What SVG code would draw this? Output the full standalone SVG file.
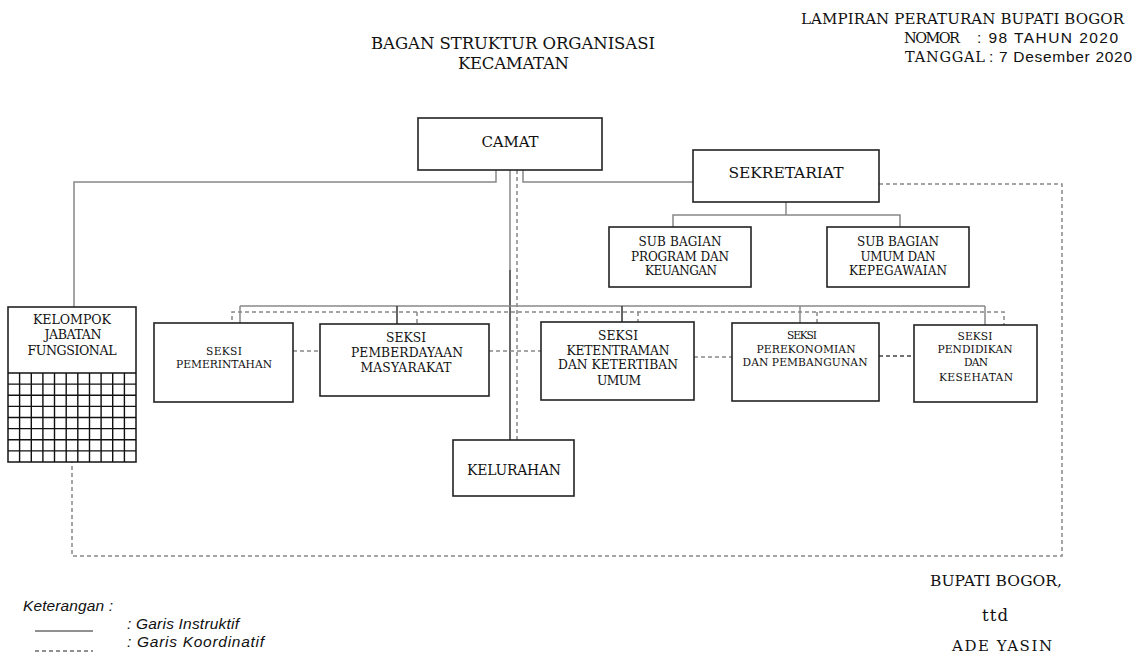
<svg xmlns="http://www.w3.org/2000/svg" width="1137" height="656" viewBox="0 0 1137 656">
<style>
.box{fill:#fff;stroke:#222;stroke-width:1.6}
.t{font-family:"DejaVu Serif","Liberation Serif",serif;fill:#111;text-anchor:middle}
.h{font-family:"DejaVu Serif","Liberation Serif",serif;fill:#111}
.s{font-family:"Liberation Sans",Arial,sans-serif;fill:#111}
.i{font-family:"Liberation Sans",Arial,sans-serif;fill:#111;font-style:italic;font-size:15.5px}
.sm{font-size:10.7px}
.md{font-size:12.3px}
.sol{fill:none;stroke:#888;stroke-width:1.5}
.dk{fill:none;stroke:#333;stroke-width:1.5}
.dash{fill:none;stroke:#888;stroke-width:1.5;stroke-dasharray:4 3}
.ddash{fill:none;stroke:#444;stroke-width:1.5;stroke-dasharray:4 3}
.grid{fill:none;stroke:#111;stroke-width:1.4}
</style>
<rect width="1137" height="656" fill="#fff"/>

<g id="header">
<text class="h" x="801" y="24" font-size="15" textLength="323" lengthAdjust="spacing">LAMPIRAN PERATURAN BUPATI BOGOR</text>
<text class="h" x="904" y="43" font-size="14.5" textLength="56" lengthAdjust="spacing">NOMOR</text>
<text class="s" x="977" y="43" font-size="15.5" textLength="141" lengthAdjust="spacing">: 98 TAHUN 2020</text>
<text class="h" x="905" y="62" font-size="14.5" textLength="80" lengthAdjust="spacing">TANGGAL</text>
<text class="s" x="989" y="62" font-size="15.5" textLength="143" lengthAdjust="spacing">: 7 Desember 2020</text>
<text class="h" x="371" y="49" font-size="16.5" textLength="284" lengthAdjust="spacing">BAGAN STRUKTUR ORGANISASI</text>
<text class="h" x="458" y="69" font-size="16.5" textLength="111" lengthAdjust="spacing">KECAMATAN</text>
</g>

<g id="connectors">
<polyline class="sol" points="496,170 496,182 74,182 74,307"/>
<polyline class="sol" points="523,170 523,182 693,182"/>
<line class="sol" x1="510" y1="170" x2="510" y2="270"/>
<line class="dk" x1="510" y1="270" x2="510" y2="440"/>
<polyline class="sol" points="786,202 786,215"/>
<polyline class="sol" points="673,227 673,215 900,215 900,227"/>
<line class="sol" x1="240" y1="306" x2="985" y2="306"/>
<line class="sol" x1="240" y1="306" x2="240" y2="323"/>
<line class="dk" x1="397" y1="306" x2="397" y2="324"/>
<line class="dk" x1="622" y1="306" x2="622" y2="322"/>
<line class="sol" x1="800" y1="306" x2="800" y2="323"/>
<line class="sol" x1="985" y1="306" x2="985" y2="325"/>
<line class="dash" x1="517" y1="170" x2="517" y2="440"/>
<polyline class="dash" points="232,327 232,312 1004,312 1004,325"/>
<line class="dash" x1="417" y1="312" x2="417" y2="324"/>
<line class="dash" x1="638" y1="312" x2="638" y2="322"/>
<line class="dash" x1="817" y1="312" x2="817" y2="323"/>
<line class="dash" x1="293" y1="351" x2="320" y2="351"/>
<line class="dash" x1="489" y1="351" x2="541" y2="351"/>
<line class="dash" x1="694" y1="357" x2="732" y2="357"/>
<line class="ddash" x1="879" y1="356" x2="914" y2="356"/>
<polyline class="dash" points="879,184 1062,184 1062,556 72,556 72,462"/>
</g>

<g id="camat"><rect class="box" x="418" y="118" width="184" height="52"/><text class="t" x="510" y="147" font-size="15" textLength="57" lengthAdjust="spacing">CAMAT</text></g>
<g id="sekretariat"><rect class="box" x="693" y="150" width="186" height="52"/><text class="t" x="786" y="178" font-size="15.5" textLength="115" lengthAdjust="spacing">SEKRETARIAT</text></g>
<g id="subbag-program"><rect class="box" x="609" y="227" width="142" height="60"/>
<text class="t" x="680" y="246" font-size="12" textLength="83" lengthAdjust="spacing">SUB BAGIAN</text>
<text class="t" x="680" y="261" font-size="12" textLength="98" lengthAdjust="spacing">PROGRAM DAN</text>
<text class="t" x="681" y="275" font-size="12" textLength="72" lengthAdjust="spacing">KEUANGAN</text></g>
<g id="subbag-umum"><rect class="box" x="827" y="227" width="142" height="60"/>
<text class="t" x="898" y="246" font-size="12" textLength="82" lengthAdjust="spacing">SUB BAGIAN</text>
<text class="t" x="898" y="261" font-size="12" textLength="75" lengthAdjust="spacing">UMUM DAN</text>
<text class="t" x="898" y="275" font-size="12" textLength="98" lengthAdjust="spacing">KEPEGAWAIAN</text></g>

<g id="kelompok">
<rect class="box" x="8" y="307" width="128" height="155"/>
<line class="grid" x1="8" y1="373" x2="136" y2="373"/>
<path class="grid" d="M8,384.1H136M8,395.3H136M8,406.4H136M8,417.5H136M8,428.6H136M8,439.8H136M8,450.9H136M19.6,373V462M31.3,373V462M42.9,373V462M54.5,373V462M66.2,373V462M77.8,373V462M89.5,373V462M101.1,373V462M112.7,373V462M124.4,373V462"/>
<text class="t" x="72" y="324" font-size="12.6" textLength="78" lengthAdjust="spacing">KELOMPOK</text>
<text class="t" x="73" y="339" font-size="12.6" textLength="57" lengthAdjust="spacing">JABATAN</text>
<text class="t" x="72" y="355" font-size="12.6" textLength="89" lengthAdjust="spacing">FUNGSIONAL</text>
</g>

<g id="seksi-pemerintahan"><rect class="box" x="154" y="323" width="139" height="79"/>
<text class="t sm" x="224" y="355" textLength="36" lengthAdjust="spacing">SEKSI</text>
<text class="t sm" x="224" y="368" textLength="96" lengthAdjust="spacing">PEMERINTAHAN</text></g>
<g id="seksi-pemberdayaan"><rect class="box" x="320" y="324" width="169" height="72"/>
<text class="t md" x="406" y="342" textLength="40" lengthAdjust="spacing">SEKSI</text>
<text class="t md" x="407" y="357" textLength="112" lengthAdjust="spacing">PEMBERDAYAAN</text>
<text class="t md" x="406" y="372" textLength="91" lengthAdjust="spacing">MASYARAKAT</text></g>
<g id="seksi-ketentraman"><rect class="box" x="541" y="322" width="153" height="78"/>
<text class="t md" x="618" y="340" textLength="40" lengthAdjust="spacing">SEKSI</text>
<text class="t md" x="618" y="355" textLength="103" lengthAdjust="spacing">KETENTRAMAN</text>
<text class="t md" x="618" y="369" textLength="120" lengthAdjust="spacing">DAN KETERTIBAN</text>
<text class="t md" x="619" y="385" textLength="44" lengthAdjust="spacing">UMUM</text></g>
<g id="seksi-perekonomian"><rect class="box" x="732" y="323" width="147" height="78"/>
<text class="t sm" x="802" y="339" textLength="30" lengthAdjust="spacing">SEKSI</text>
<text class="t sm" x="806" y="353" textLength="99" lengthAdjust="spacing">PEREKONOMIAN</text>
<text class="t sm" x="805" y="366" textLength="125" lengthAdjust="spacing">DAN PEMBANGUNAN</text></g>
<g id="seksi-pendidikan"><rect class="box" x="914" y="325" width="123" height="77"/>
<text class="t sm" x="975" y="340" textLength="35" lengthAdjust="spacing">SEKSI</text>
<text class="t sm" x="975" y="353" textLength="75" lengthAdjust="spacing">PENDIDIKAN</text>
<text class="t sm" x="976" y="366" textLength="24" lengthAdjust="spacing">DAN</text>
<text class="t sm" x="976" y="381" textLength="74" lengthAdjust="spacing">KESEHATAN</text></g>
<g id="kelurahan"><rect class="box" x="453" y="440" width="121" height="56"/><text class="t" x="514" y="475" font-size="13.9" textLength="94" lengthAdjust="spacing">KELURAHAN</text></g>

<g id="legend">
<text class="i" x="23" y="611" textLength="90" lengthAdjust="spacing">Keterangan :</text>
<line x1="35" y1="631" x2="93" y2="631" stroke="#222" stroke-width="1.2"/>
<line x1="35" y1="651" x2="93" y2="651" stroke="#222" stroke-width="1.2" stroke-dasharray="4 3"/>
<text class="i" x="127" y="629" textLength="112" lengthAdjust="spacing">: Garis Instruktif</text>
<text class="i" x="127" y="647" textLength="137" lengthAdjust="spacing">: Garis Koordinatif</text>
</g>

<g id="signature">
<text class="t" x="996" y="586" font-size="15.5" textLength="132" lengthAdjust="spacing">BUPATI BOGOR,</text>
<text class="t" x="995" y="621" font-size="16.5" textLength="26" lengthAdjust="spacing">ttd</text>
<text class="t" x="1002" y="651" font-size="15" textLength="100" lengthAdjust="spacing">ADE YASIN</text>
</g>
</svg>
